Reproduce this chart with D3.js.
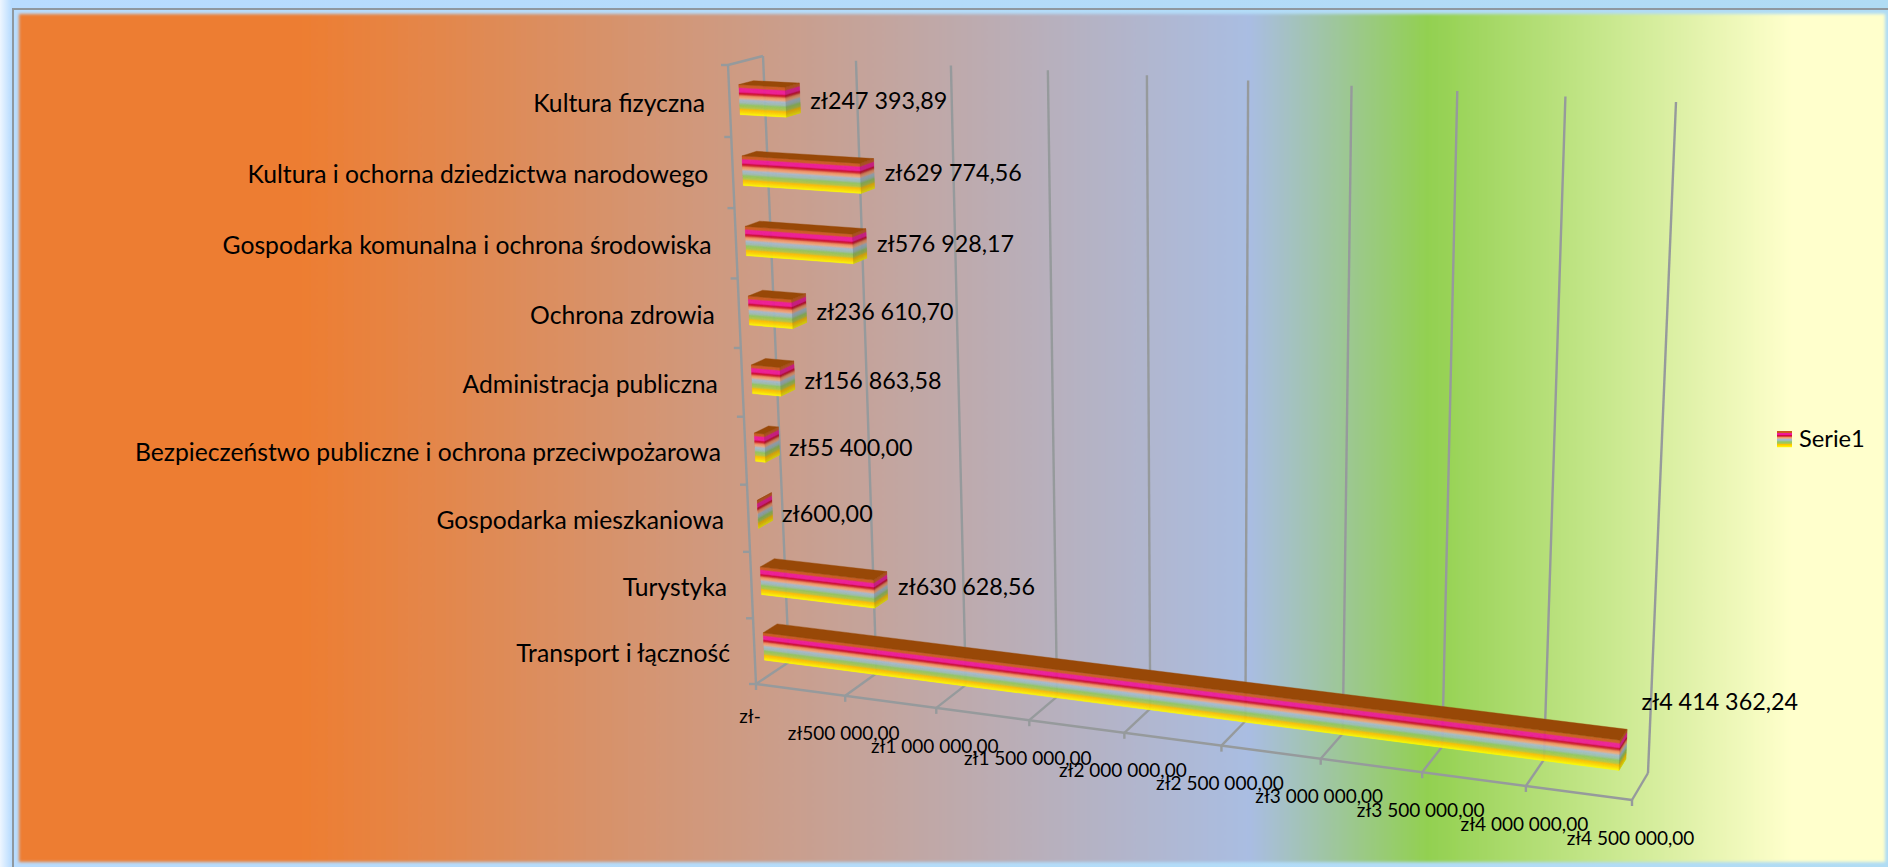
<!DOCTYPE html>
<html>
<head>
<meta charset="utf-8">
<script src="https://cdn.jsdelivr.net/npm/d3@7"></script>
<style>
body { margin: 0; background: #b4d8fb; overflow: hidden; }
text { font-family: Lato, "Open Sans", sans-serif; fill: #000; }
</style>
</head>
<body>
<script>
// Data
var categories = ["Kultura fizyczna", "Kultura i ochorna dziedzictwa narodowego", "Gospodarka komunalna i ochrona środowiska",
    "Ochrona zdrowia", "Administracja publiczna", "Bezpieczeństwo publiczne i ochrona przeciwpożarowa",
    "Gospodarka mieszkaniowa", "Turystyka", "Transport i łączność"];
var values = [247393.89, 629774.56, 576928.17, 236610.70, 156863.58, 55400, 600, 630628.56, 4414362.24];
var tickValues = [0, 500000, 1000000, 1500000, 2000000, 2500000, 3000000, 3500000, 4000000, 4500000];
var tickLabels = ["zł-", "zł500 000,00", "zł1 000 000,00", "zł1 500 000,00", "zł2 000 000,00", "zł2 500 000,00",
    "zł3 000 000,00", "zł3 500 000,00", "zł4 000 000,00", "zł4 500 000,00"];
var seriesName = "Serie1";

var width = 1888, height = 867;
var svg = d3.select("body").append("svg").attr("width", width).attr("height", height).style("display", "block");
var defs = svg.append("defs");

// Number format used on the bars: zł247 393,89
var pl = d3.formatLocale({ decimal: ",", thousands: " ", grouping: [3], currency: ["zł", ""] });
var money = pl.format("$,.2f");

// Outer frame
var frame = defs.append("linearGradient").attr("id", "frame");
frame.append("stop").attr("offset", 0).attr("stop-color", "#eef6ff");
frame.append("stop").attr("offset", 0.006).attr("stop-color", "#b8dcff");
frame.append("stop").attr("offset", 1).attr("stop-color", "#b0dcf4");
svg.append("rect").attr("width", width).attr("height", height).attr("fill", "url(#frame)");
svg.append("path").attr("d", "M13,867V9H1888").attr("fill", "none").attr("stroke", "#8f989f").attr("stroke-width", 2);

// Chart area
var bg = defs.append("linearGradient").attr("id", "bg").attr("gradientUnits", "userSpaceOnUse")
    .attr("x1", 18).attr("x2", 1885).attr("y1", 0).attr("y2", 0);
[[0.15, "#ed7d31"], [0.66, "#a9bde2"], [0.755, "#92d050"], [0.95, "#ffffcc"]].forEach(function(s) {
    bg.append("stop").attr("offset", s[0]).attr("stop-color", s[1]);
});
defs.append("filter").attr("id", "soft").append("feGaussianBlur").attr("stdDeviation", 1.6);
svg.append("rect").attr("x", 19).attr("y", 14).attr("width", 1866).attr("height", 848)
    .attr("fill", "url(#bg)").attr("filter", "url(#soft)");

// Corners of the 3D box, as seen in the picture
var box = {
    frontBottom: [[756, 684], [1632, 800]],
    frontTop: [[728, 65], [1660, 114]],
    backBottom: [[789, 662], [1648, 773]],
    backTop: [[763, 56], [1676, 102]]
};

function warp(t, w) { return t * w / (1 - t + t * w); }
function mix(a, b, t) { return [a[0] + (b[0] - a[0]) * t, a[1] + (b[1] - a[1]) * t]; }

// Value scale goes to 0..1 along the axis, category scale goes to 0..1 up the wall
var x = d3.scaleLinear().domain([0, 4500000]).range([0, 1]);
var y = d3.scaleBand().domain(categories).range([1, 0]).paddingInner(0.58).paddingOuter(0.29);

// value position u, depth d (0 front, 1 back), height h (0 floor, 1 top)
function project(u, d, h) {
    var uu = warp(u, 0.907), hh = warp(h, 0.95);
    var front = mix(mix(box.frontBottom[0], box.frontBottom[1], uu), mix(box.frontTop[0], box.frontTop[1], uu), hh);
    var back = mix(mix(box.backBottom[0], box.backBottom[1], uu), mix(box.backTop[0], box.backTop[1], uu), hh);
    return mix(front, back, d);
}

var poly = d3.line();
var gridColor = "#969a9c";

function seg(a, b, w) {
    svg.append("line").attr("x1", a[0]).attr("y1", a[1]).attr("x2", b[0]).attr("y2", b[1])
        .attr("stroke", gridColor).attr("stroke-width", w || 2.4);
}

// Walls and floor
tickValues.forEach(function(v) {
    var u = x(v);
    seg(project(u, 1, 0), project(u, 1, 1));
    seg(project(u, 0, 0), project(u, 1, 0));
    var p = project(u, 0, 0);
    seg(p, [p[0], p[1] + 6]);
});
seg(project(0, 0, 0), project(1, 0, 0));
seg(project(0, 0, 0), project(0, 0, 1));
seg(project(0, 0, 1), project(0, 1, 1));
d3.range(categories.length + 1).forEach(function(i) {
    var p = project(0, 0, i / categories.length);
    seg(p, [p[0] - 7, p[1]]);
});

// Stripes of the bar fill, top to bottom
var stripeStops = [0, 0.1, 0.13, 0.25, 0.29, 0.33, 0.38, 0.45, 0.52, 0.62, 0.68, 0.78, 0.83, 0.92, 1];
var stripeColors = ["#c8581c", "#cc5a20", "#f0189a", "#f0189a", "#cc0030", "#d02a30", "#f08a5c", "#f4a87c", "#a4bcd4",
    "#9cc0b0", "#90c860", "#b4c848", "#ffc000", "#ffdc00", "#ffff00"];
var stripe = d3.scaleLinear().domain(stripeStops).range(stripeColors);
var topColor = "#984807";
var slices = 40;
var depthFront = 0.28, depthBack = 0.70;
var barDrop = 0.002;

categories.forEach(function(c, i) {
    var u = x(values[i]);
    var hLow = y(c) - barDrop, hHigh = y(c) + y.bandwidth() - barDrop;
    var g = svg.append("g");
    d3.range(slices).forEach(function(k) {
        var t0 = k / slices, t1 = (k + 1) / slices;
        var a = hHigh + (hLow - hHigh) * t0, b = hHigh + (hLow - hHigh) * t1;
        var col = stripe((t0 + t1) / 2);
        // front face
        g.append("path").attr("d", poly([project(0, depthFront, a), project(u, depthFront, a),
            project(u, depthFront, b), project(0, depthFront, b)]) + "Z")
            .attr("fill", col).attr("stroke", col).attr("stroke-width", 0.3);
        // end face
        var dark = d3.color(col).darker(0.55).formatHex();
        g.append("path").attr("d", poly([project(u, depthFront, a), project(u, depthBack, a),
            project(u, depthBack, b), project(u, depthFront, b)]) + "Z")
            .attr("fill", dark).attr("stroke", dark).attr("stroke-width", 0.3);
    });
    // top face
    g.append("path").attr("d", poly([project(0, depthFront, hHigh), project(0, depthBack, hHigh),
        project(u, depthBack, hHigh), project(u, depthFront, hHigh)]) + "Z")
        .attr("fill", topColor).attr("stroke", topColor).attr("stroke-width", 0.4);
});

// Category labels
categories.forEach(function(c) {
    var p = project(0, 0, y(c) + y.bandwidth() / 2);
    svg.append("text").attr("x", p[0] - 24.5).attr("y", p[1] + 2).attr("dy", "0.35em")
        .attr("text-anchor", "end").attr("font-size", 24.7).text(c);
});

// Value labels
var labelLift = d3.scaleLinear().domain([0, 1]).range([5, -48]);
var labelShift = d3.scaleLinear().domain([0, 1]).range([10, 15]);
categories.forEach(function(c, i) {
    var u = x(values[i]);
    var mid = y(c) + y.bandwidth() / 2;
    var end = project(u, depthBack, mid);
    var p = project(u, 0.5, mid);
    svg.append("text").attr("x", end[0] + labelShift(u)).attr("y", p[1] + labelLift(warp(u, 0.907))).attr("dy", "0.35em")
        .attr("font-size", 23.3).text(money(values[i]));
});

// Axis labels
tickValues.forEach(function(v, i) {
    var p = project(x(v), 0, 0);
    svg.append("text").attr("x", p[0] - (i == 0 ? 6 : 1.5)).attr("y", p[1] + (i == 0 ? 32 : 38)).attr("dy", "0.35em")
        .attr("text-anchor", "middle").attr("font-size", 19).text(tickLabels[i]);
});

// Legend
var swatch = svg.append("g");
d3.range(16).forEach(function(k) {
    swatch.append("rect").attr("x", 1777).attr("y", 431 + k).attr("width", 15).attr("height", 1.2)
        .attr("fill", stripe((k + 0.5) / 16));
});
svg.append("text").attr("x", 1799).attr("y", 447).attr("font-size", 23.7).text(seriesName);
</script>
</body>
</html>
